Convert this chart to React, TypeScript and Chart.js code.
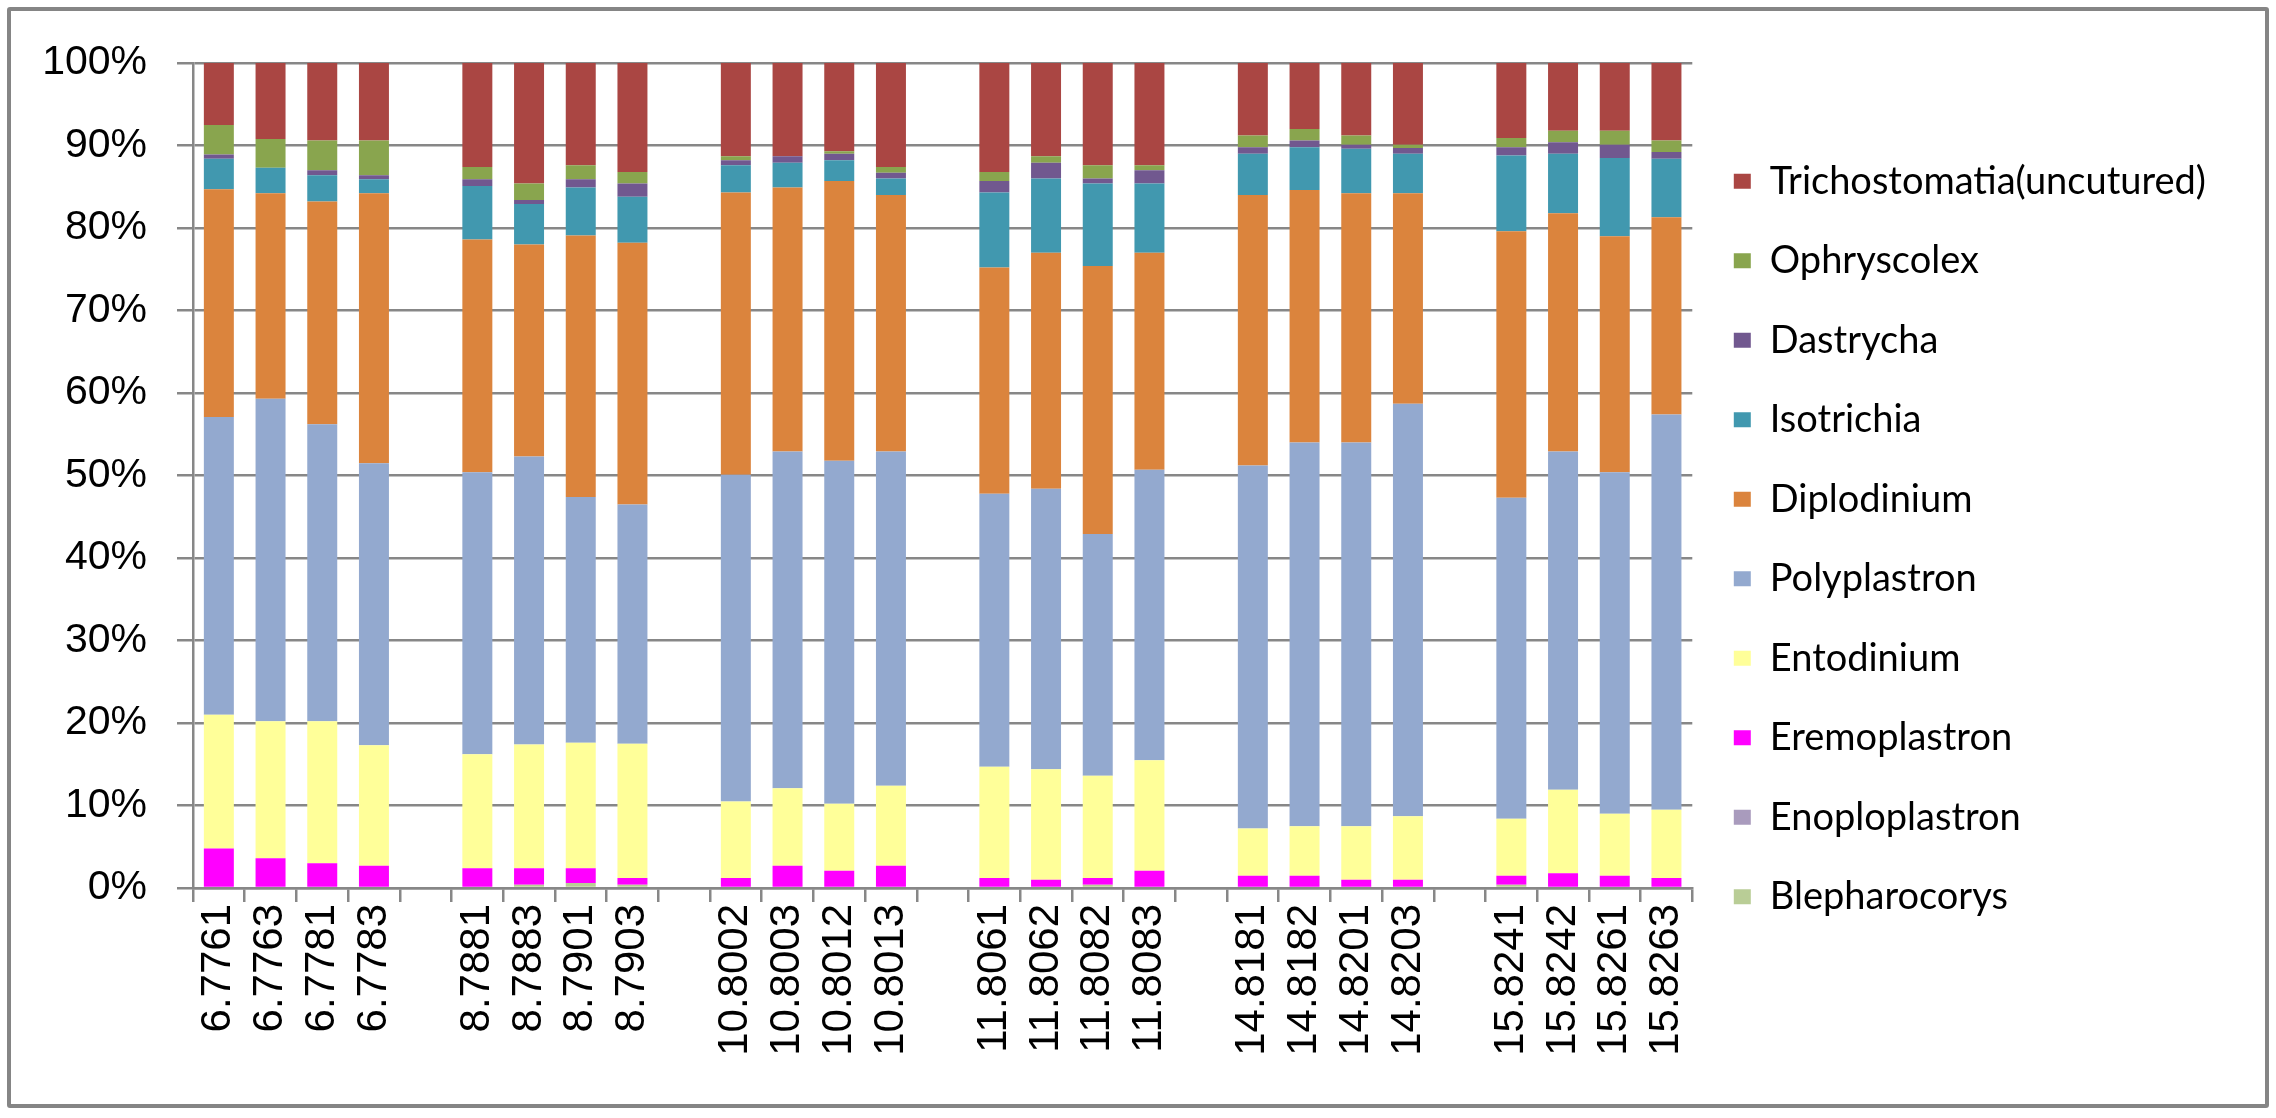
import { useEffect, useRef } from 'react';
import { Chart, registerables } from 'chart.js';

Chart.register(...registerables);

// samples, with an empty category between each group
const samples = [
  '6.7761', '6.7763', '6.7781', '6.7783', '',
  '8.7881', '8.7883', '8.7901', '8.7903', '',
  '10.8002', '10.8003', '10.8012', '10.8013', '',
  '11.8061', '11.8062', '11.8082', '11.8083', '',
  '14.8181', '14.8182', '14.8201', '14.8203', '',
  '15.8241', '15.8242', '15.8261', '15.8263',
];

// relative abundance (%), bottom of the stack first
const blepharocorys = [0, 0, 0, 0, null, 0, 0.4, 0.6, 0.4, null, 0, 0, 0, 0, null, 0, 0, 0.4, 0, null, 0, 0, 0, 0, null, 0.4, 0, 0, 0];
const enoploplastron = [0, 0, 0, 0, null, 0, 0, 0, 0, null, 0, 0, 0, 0, null, 0, 0, 0, 0, null, 0, 0, 0, 0, null, 0, 0, 0, 0];
const eremoplastron = [4.8, 3.6, 3.0, 2.7, null, 2.4, 2.0, 1.8, 0.8, null, 1.2, 2.7, 2.1, 2.7, null, 1.2, 1.0, 0.8, 2.1, null, 1.5, 1.5, 1.0, 1.0, null, 1.1, 1.8, 1.5, 1.2];
const entodinium = [16.2, 16.6, 17.2, 14.6, null, 13.8, 15.0, 15.2, 16.3, null, 9.3, 9.4, 8.1, 9.7, null, 13.5, 13.4, 12.4, 13.4, null, 5.7, 6.0, 6.5, 7.7, null, 6.9, 10.1, 7.5, 8.3];
const polyplastron = [36.1, 39.1, 36.0, 34.2, null, 34.2, 34.9, 29.8, 29.0, null, 39.6, 40.8, 41.6, 40.5, null, 33.1, 34.0, 29.3, 35.2, null, 44.0, 46.5, 46.5, 50.0, null, 38.9, 41.0, 41.4, 47.9];
const diplodinium = [27.6, 24.9, 27.0, 32.7, null, 28.2, 25.7, 31.7, 31.7, null, 34.2, 32.0, 33.9, 31.1, null, 27.4, 28.6, 32.5, 26.3, null, 32.8, 30.6, 30.2, 25.5, null, 32.3, 28.9, 28.6, 23.9];
const isotrichia = [3.7, 3.1, 3.2, 1.7, null, 6.5, 4.9, 5.8, 5.6, null, 3.3, 3.0, 2.5, 2.0, null, 9.1, 9.0, 10.0, 8.4, null, 5.0, 5.2, 5.4, 4.8, null, 9.2, 7.2, 9.5, 7.1];
const dastrycha = [0.5, 0, 0.6, 0.5, null, 0.8, 0.5, 1.0, 1.6, null, 0.6, 0.8, 0.8, 0.7, null, 1.4, 1.9, 0.6, 1.6, null, 0.8, 0.8, 0.5, 0.7, null, 1.0, 1.4, 1.6, 0.8];
const ophryscolex = [3.6, 3.5, 3.6, 4.2, null, 1.5, 2.0, 1.7, 1.4, null, 0.5, 0, 0.3, 0.7, null, 1.1, 0.8, 1.6, 0.6, null, 1.4, 1.4, 1.1, 0.4, null, 1.1, 1.4, 1.7, 1.4];
const trichostomatia = [7.5, 9.2, 9.4, 9.4, null, 12.6, 14.6, 12.4, 13.2, null, 11.3, 11.3, 10.7, 12.6, null, 13.2, 11.3, 12.4, 12.4, null, 8.8, 8.0, 8.8, 9.9, null, 9.1, 8.2, 8.2, 9.4];

const yTicks = [0, 10, 20, 30, 40, 50, 60, 70, 80, 90, 100];

const series = [
  { label: 'Blepharocorys', data: blepharocorys, color: '#B9CD96' },
  { label: 'Enoploplastron', data: enoploplastron, color: '#A99BBD' },
  { label: 'Eremoplastron', data: eremoplastron, color: '#FF00FF' },
  { label: 'Entodinium', data: entodinium, color: '#FFFF99' },
  { label: 'Polyplastron', data: polyplastron, color: '#93A9CF' },
  { label: 'Diplodinium', data: diplodinium, color: '#DB843D' },
  { label: 'Isotrichia', data: isotrichia, color: '#4198AF' },
  { label: 'Dastrycha', data: dastrycha, color: '#71588F' },
  { label: 'Ophryscolex', data: ophryscolex, color: '#89A54E' },
  { label: 'Trichostomatia(uncutured)', data: trichostomatia, color: '#AA4643' },
];

const axisGray = '#878787';

export default function App() {
  const canvasRef = useRef<HTMLCanvasElement>(null);
  const chartRef = useRef<Chart | null>(null);

  useEffect(() => {
    if (!canvasRef.current) return;
    if (chartRef.current) chartRef.current.destroy();

    chartRef.current = new Chart(canvasRef.current, {
      type: 'bar',
      data: {
        labels: samples,
        datasets: series.map(s => ({
          label: s.label,
          data: s.data,
          backgroundColor: s.color,
          borderWidth: 0,
          barPercentage: 0.58,
          categoryPercentage: 1,
        })),
      },
      options: {
        animation: false,
        responsive: true,
        maintainAspectRatio: false,
        layout: {
          padding: { top: 0, right: 60, bottom: 40, left: 0 },
        },
        plugins: {
          tooltip: { enabled: false },
          // empty, plot-wide title only used as top spacing (legend keeps full height)
          title: {
            display: true,
            text: ' ',
            fullSize: false,
            font: { size: 10 },
            padding: { top: 0, bottom: 51 },
          },
          legend: {
            position: 'right',
            reverse: true,
            labels: {
              font: { family: 'Lato', size: 38 },
              color: '#000',
              boxWidth: 17,
              boxHeight: 15,
              padding: 41.5,
            },
          },
        },
        scales: {
          y: {
            stacked: true,
            min: 0,
            max: 100,
            afterFit: (scale: any) => { scale.width = 193; },
            afterBuildTicks: (scale: any) => {
              scale.ticks = yTicks.map(v => ({ value: v }));
            },
            grid: {
              color: axisGray,
              lineWidth: 2.5,
              drawTicks: true,
              tickLength: 16,
            },
            border: { display: true, color: axisGray, width: 2.5 },
            ticks: {
              padding: 30,
              color: '#000',
              font: { family: 'Liberation Sans', size: 41 },
              callback: (v: any) => v + '%',
            },
          },
          x: {
            stacked: true,
            afterFit: (scale: any) => { scale.height = 190; },
            grid: {
              drawOnChartArea: false,
              drawTicks: true,
              tickLength: 14,
              color: axisGray,
              lineWidth: 2.5,
            },
            border: { display: true, color: axisGray, width: 2.5 },
            ticks: {
              autoSkip: false,
              minRotation: 90,
              maxRotation: 90,
              padding: 2,
              color: '#000',
              font: { family: 'Liberation Sans', size: 42 },
            },
          },
        },
      },
    });

    return () => {
      if (chartRef.current) {
        chartRef.current.destroy();
        chartRef.current = null;
      }
    };
  }, []);

  return (
    <div style={{ position: 'fixed', left: 0, top: 0, width: 2276, height: 1118, background: '#fff' }}>
      <canvas ref={canvasRef} />
      <div
        style={{
          position: 'absolute',
          left: 7,
          top: 7,
          width: 2262,
          height: 1101,
          boxSizing: 'border-box',
          border: '4px solid #858585',
          borderRadius: 3,
          pointerEvents: 'none',
        }}
      />
    </div>
  );
}
